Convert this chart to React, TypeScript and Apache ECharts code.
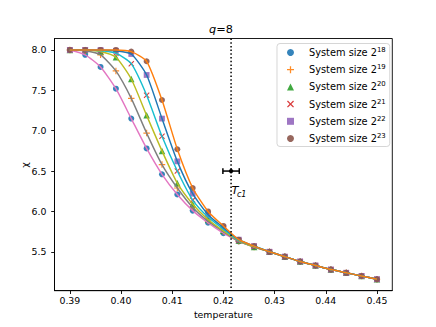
import React, { useEffect, useRef } from "react";
import * as echarts from "echarts";

// ---- data ----
const temperature = [0.39, 0.393, 0.396, 0.399, 0.402, 0.405, 0.408, 0.411, 0.414, 0.417, 0.42, 0.423, 0.426, 0.429, 0.432, 0.435, 0.438, 0.441, 0.444, 0.447, 0.45];
const sizeExponents = ["18", "19", "20", "21", "22", "23"];
const chi18 = [8.0, 7.94, 7.79, 7.52, 7.15, 6.78, 6.46, 6.21, 6.01, 5.86, 5.73, 5.63, 5.56, 5.5, 5.44, 5.38, 5.33, 5.28, 5.24, 5.2, 5.16];
const chi19 = [8.0, 7.99, 7.94, 7.74, 7.4, 6.97, 6.58, 6.29, 6.05, 5.88, 5.75, 5.63, 5.56, 5.5, 5.44, 5.38, 5.33, 5.28, 5.24, 5.2, 5.16];
const chi20 = [8.0, 8.0, 7.98, 7.91, 7.64, 7.19, 6.75, 6.35, 6.09, 5.9, 5.76, 5.64, 5.56, 5.5, 5.44, 5.38, 5.33, 5.28, 5.24, 5.2, 5.16];
const chi21 = [8.0, 8.0, 7.99, 7.96, 7.83, 7.44, 6.93, 6.5, 6.14, 5.93, 5.78, 5.64, 5.57, 5.5, 5.44, 5.38, 5.33, 5.28, 5.24, 5.2, 5.16];
const chi22 = [8.0, 8.0, 8.0, 7.99, 7.95, 7.69, 7.15, 6.62, 6.22, 5.96, 5.8, 5.65, 5.57, 5.5, 5.44, 5.38, 5.33, 5.28, 5.24, 5.2, 5.16];
const chi23 = [8.0, 8.0, 8.0, 8.0, 7.98, 7.86, 7.38, 6.77, 6.29, 6.0, 5.82, 5.65, 5.57, 5.5, 5.44, 5.38, 5.33, 5.28, 5.24, 5.2, 5.16];
const chiSeries = [chi18, chi19, chi20, chi21, chi22, chi23];
const xTicks = [0.39, 0.4, 0.41, 0.42, 0.43, 0.44, 0.45];
const yTicks = [5.5, 6.0, 6.5, 7.0, 7.5, 8.0];
const Tc = 0.4215;
const TcErr = 0.0016;
const TcMarkY = 6.5;

// ---- styles ----
const FONT = "DejaVu Sans";
const markerColors = ["#1f77b4", "#ff7f0e", "#2ca02c", "#d62728", "#9467bd", "#8c564b"];
const lineColors = ["#e377c2", "#7f7f7f", "#bcbd22", "#17becf", "#1f77b4", "#ff7f0e"];
const plusPath = "path://M4.1,0 H5.9 V4.1 H10 V5.9 H5.9 V10 H4.1 V5.9 H0 V4.1 H4.1 Z";
const crossPath = "path://M0,1.3 L1.3,0 L5,3.7 L8.7,0 L10,1.3 L6.3,5 L10,8.7 L8.7,10 L5,6.3 L1.3,10 L0,8.7 L3.7,5 Z";
const markerSymbols = ["circle", plusPath, "triangle", crossPath, "rect", "circle"];
const markerSizes = [6, 6.5, 6.5, 6, 5.8, 6];

function buildOption() {
  const names = sizeExponents.map((e) => "System size 2^" + e);
  const scatter = chiSeries.map((ys, k) => ({
    name: names[k],
    type: "scatter",
    data: temperature.map((t, i) => [t, ys[i]]),
    symbol: markerSymbols[k],
    symbolSize: markerSizes[k],
    itemStyle: { color: markerColors[k], opacity: 0.9 },
    z: 2,
  }));
  const lines = chiSeries.map((ys, k) => ({
    name: "fit" + sizeExponents[k],
    type: "line",
    data: temperature.map((t, i) => [t, ys[i]]),
    showSymbol: false,
    smooth: 0.2,
    lineStyle: { color: lineColors[k], width: 1.45 },
    itemStyle: { color: lineColors[k] },
    z: 3,
  }));
  const errorBar = {
    name: "Tc",
    type: "custom",
    z: 4,
    clip: false,
    data: [[Tc, TcMarkY, TcErr]],
    renderItem: (params: any, api: any) => {
      const x = api.value(0), y = api.value(1), e = api.value(2);
      const c = api.coord([x, y]);
      const l = api.coord([x - e, y]);
      const r = api.coord([x + e, y]);
      const cs = params.coordSys;
      const st = { stroke: "#000", lineWidth: 1.5 };
      return {
        type: "group",
        children: [
          { type: "line", shape: { x1: c[0], y1: cs.y, x2: c[0], y2: cs.y + cs.height }, style: { stroke: "#000", lineWidth: 1.5, lineDash: [1.5, 2.2] } },
          { type: "line", shape: { x1: l[0], y1: c[1], x2: r[0], y2: c[1] }, style: st },
          { type: "line", shape: { x1: l[0], y1: c[1] - 2.9, x2: l[0], y2: c[1] + 2.9 }, style: st },
          { type: "line", shape: { x1: r[0], y1: c[1] - 2.9, x2: r[0], y2: c[1] + 2.9 }, style: st },
          { type: "circle", shape: { cx: c[0], cy: c[1], r: 2.2 }, style: { fill: "#000" } },
          {
            type: "text",
            style: { text: "T", x: c[0] + 0.3, y: c[1] + 19.8, fontSize: 11.3, fontStyle: "italic", fontFamily: FONT, fill: "#000", align: "left", verticalAlign: "middle" },
          },
          {
            type: "text",
            style: { text: "c1", x: c[0] + 5.8, y: c[1] + 23.6, fontSize: 8, fontStyle: "italic", fontFamily: FONT, fill: "#000", align: "left", verticalAlign: "middle" },
          },
        ],
      };
    },
  };

  return {
    animation: false,
    backgroundColor: "#fff",
    textStyle: { fontFamily: FONT },
    grid: { left: 54.5, right: 43.7, top: 38.5, bottom: 36.3, show: true, borderColor: "#000", borderWidth: 0.9, containLabel: false },
    xAxis: {
      type: "value",
      min: 0.387,
      max: 0.453,
      splitLine: { show: false },
      axisLine: { show: true, lineStyle: { color: "#000", width: 0.9 } },
      axisTick: { show: true, length: 3.3, lineStyle: { color: "#000", width: 0.9 }, customValues: xTicks },
      axisLabel: { color: "#000", fontSize: 9.4, fontFamily: FONT, margin: 5.5, customValues: xTicks, formatter: (v: number) => v.toFixed(2) },
    },
    yAxis: {
      type: "value",
      min: 5.018,
      max: 8.142,
      splitLine: { show: false },
      axisLine: { show: true, lineStyle: { color: "#000", width: 0.9 } },
      axisTick: { show: true, length: 3.3, lineStyle: { color: "#000", width: 0.9 }, customValues: yTicks },
      axisLabel: { color: "#000", fontSize: 9.4, fontFamily: FONT, margin: 8, customValues: yTicks, formatter: (v: number) => v.toFixed(1) },
    },
    legend: {
      data: names,
      orient: "vertical",
      left: 277,
      top: 43.5,
      itemWidth: 7,
      itemHeight: 7,
      itemGap: 6.2,
      padding: [3, 4, 3, 10],
      backgroundColor: "rgba(255,255,255,0.8)",
      borderColor: "rgba(204,204,204,0.8)",
      borderWidth: 1,
      borderRadius: 3,
      selectedMode: false,
      formatter: (n: string) => {
        const [base, exp] = n.split("^");
        return "{a|" + base + "}{s|" + exp + "}";
      },
      textStyle: {
        color: "#000",
        fontFamily: FONT,
        fontSize: 9.8,
        padding: [0, 0, 0, 10],
        rich: {
          a: { fontSize: 9.8, fontFamily: FONT, color: "#000", lineHeight: 12 },
          s: { fontSize: 6.9, fontFamily: FONT, color: "#000", verticalAlign: "top", lineHeight: 8 },
        },
      },
    },
    graphic: [
      {
        type: "text",
        x: 221,
        y: 29.3,
        style: {
          text: "{i|q}{n|=8}",
          align: "center",
          verticalAlign: "middle",
          rich: {
            i: { fontSize: 11.3, fontStyle: "italic", fontFamily: FONT, fill: "#000" },
            n: { fontSize: 11.3, fontFamily: FONT, fill: "#000" },
          },
        },
      },
      {
        type: "text",
        x: 223.4,
        y: 314.3,
        style: { text: "temperature", fontSize: 9.4, fontFamily: FONT, fill: "#000", align: "center", verticalAlign: "middle" },
      },
      {
        type: "text",
        x: 24,
        y: 165,
        rotation: Math.PI / 2,
        style: { text: "χ", fontSize: 9.4, fontFamily: FONT, fill: "#000", align: "center", verticalAlign: "middle" },
      },
    ],
    series: [...scatter, ...lines, errorBar],
  };
}

export default function App() {
  const ref = useRef<HTMLDivElement>(null);
  useEffect(() => {
    const chart = echarts.init(ref.current!, null, { renderer: "svg" });
    chart.setOption(buildOption() as any);
    return () => chart.dispose();
  }, []);
  return <div ref={ref} style={{ position: "fixed", left: 0, top: 0, width: 436, height: 327 }} />;
}
